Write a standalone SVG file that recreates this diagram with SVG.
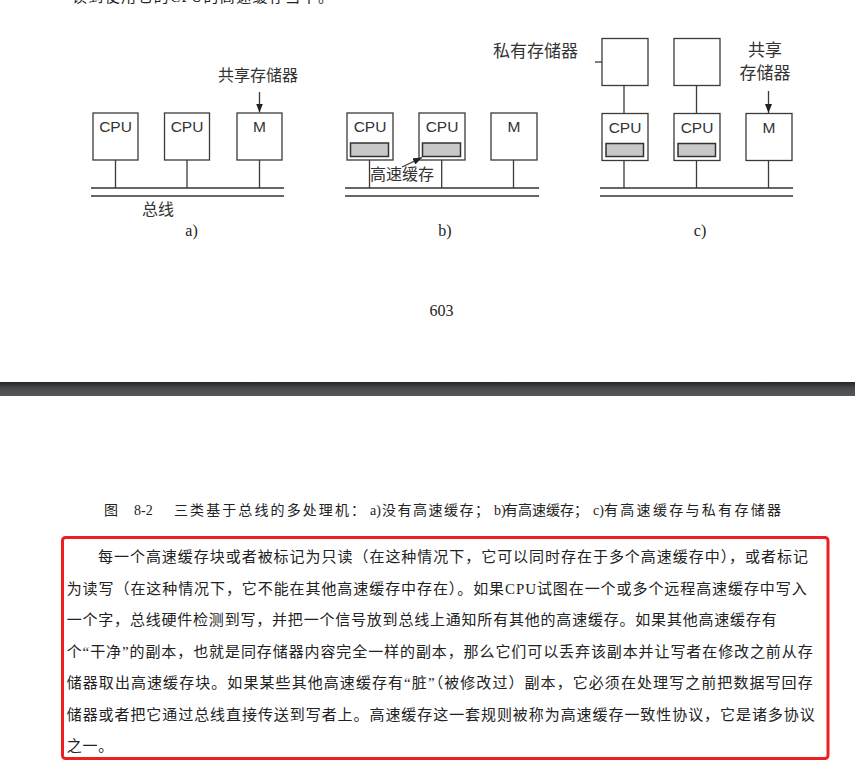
<svg xmlns="http://www.w3.org/2000/svg" width="855" height="766" viewBox="0 0 855 766">
<style>
.box{fill:#fff;stroke:#3a3a3a;stroke-width:1.3}
.cache{fill:#c8c8c8;stroke:#333;stroke-width:1.5}
.ln{stroke:#3a3a3a;stroke-width:1.3;fill:none}
.bus{stroke:#333;stroke-width:1.6;fill:none}
.lbl{font-family:"Liberation Sans",Arial,sans-serif;font-size:15.5px;fill:#333;text-anchor:middle}
.cn{font-family:"Noto Sans CJK SC",sans-serif;font-size:16px;fill:#333}
.sub{font-family:"Liberation Serif",serif;font-size:16px;fill:#222;text-anchor:middle}
.cap{font-family:"Liberation Serif","Noto Sans CJK SC",serif;font-size:14px;fill:#222}
.body{font-family:"Liberation Serif","Noto Sans CJK SC",serif;font-size:15px;fill:#222}
</style>
<defs>
<marker id="ah" markerUnits="userSpaceOnUse" markerWidth="9" markerHeight="7" refX="9" refY="3.5" orient="auto">
<path d="M0,0 L9,3.5 L0,7 z" fill="#222"/>
</marker>
<linearGradient id="band" x1="0" y1="0" x2="0" y2="1">
<stop offset="0" stop-color="#262626"/>
<stop offset="0.45" stop-color="#474a4d"/>
<stop offset="1" stop-color="#53575b"/>
</linearGradient>
</defs>
<rect width="855" height="766" fill="#fff"/>

<text class="body" x="72" y="2" textLength="261" lengthAdjust="spacing">读到使用它的CPU的高速缓存当中。</text>

<!-- a) -->
<g id="a-cpu1"><rect class="box" x="93" y="113" width="45" height="47"/><text class="lbl" x="115.5" y="132">CPU</text></g>
<g id="a-cpu2"><rect class="box" x="164.5" y="113" width="45" height="47"/><text class="lbl" x="187" y="132">CPU</text></g>
<g id="a-m"><rect class="box" x="237" y="113" width="45" height="47"/><text class="lbl" x="259.5" y="132">M</text></g>
<g id="a-bus"><line class="bus" x1="91" y1="188" x2="284" y2="188"/><line class="bus" x1="91" y1="196" x2="284" y2="196"/></g>
<g id="a-labels">
<text class="cn" x="258" y="81" text-anchor="middle">共享存储器</text>
<text class="cn" x="142" y="215">总线</text>
<text class="sub" x="191.5" y="236">a)</text>
</g>

<!-- b) -->
<g id="b-cpu1"><rect class="box" x="347" y="113" width="46" height="47"/><text class="lbl" x="370" y="132">CPU</text><rect class="cache" x="350.5" y="143" width="38" height="13.5"/></g>
<g id="b-cpu2"><rect class="box" x="419" y="113" width="46" height="47"/><text class="lbl" x="442" y="132">CPU</text><rect class="cache" x="422.5" y="143" width="38" height="13.5"/></g>
<g id="b-m"><rect class="box" x="491" y="113" width="46" height="47"/><text class="lbl" x="514" y="132">M</text></g>
<g id="b-bus"><line class="bus" x1="345" y1="188" x2="539" y2="188"/><line class="bus" x1="345" y1="196" x2="539" y2="196"/></g>
<g id="b-labels">
<text class="cn" x="370" y="180">高速缓存</text>
<text class="sub" x="445" y="236">b)</text>
</g>

<!-- c) -->
<g id="c-pm1"><rect class="box" x="602" y="38.5" width="46" height="47"/></g>
<g id="c-pm2"><rect class="box" x="674" y="38.5" width="46" height="47"/></g>
<g id="c-cpu1"><rect class="box" x="602" y="113.5" width="46" height="47"/><text class="lbl" x="625" y="133">CPU</text><rect class="cache" x="606" y="143.5" width="37.5" height="13"/></g>
<g id="c-cpu2"><rect class="box" x="674" y="113.5" width="46" height="47"/><text class="lbl" x="697" y="133">CPU</text><rect class="cache" x="678" y="143.5" width="37.5" height="13"/></g>
<g id="c-m"><rect class="box" x="746" y="113.5" width="46" height="47"/><text class="lbl" x="769" y="133">M</text></g>
<g id="c-bus"><line class="bus" x1="600" y1="188" x2="793" y2="188"/><line class="bus" x1="600" y1="196" x2="793" y2="196"/></g>
<g id="c-labels">
<text class="cn" x="493" y="57" style="font-size:17px">私有存储器</text>
<text class="cn" x="765" y="56" text-anchor="middle" style="font-size:17px">共享</text>
<text class="cn" x="765" y="79" text-anchor="middle" style="font-size:17px">存储器</text>
<text class="sub" x="700" y="236">c)</text>
</g>

<g id="connectors">
<line class="ln" x1="115.5" y1="160" x2="115.5" y2="188"/>
<line class="ln" x1="187" y1="160" x2="187" y2="188"/>
<line class="ln" x1="259.5" y1="160" x2="259.5" y2="188"/>
<line class="ln" x1="259.5" y1="92" x2="259.5" y2="112.5" marker-end="url(#ah)"/>
<line class="ln" x1="369.5" y1="160" x2="369.5" y2="188"/>
<line class="ln" x1="441.7" y1="160" x2="441.7" y2="188"/>
<line class="ln" x1="513.5" y1="160" x2="513.5" y2="188"/>
<line class="ln" x1="402" y1="167" x2="422" y2="157.5" marker-end="url(#ah)"/>
<line class="ln" x1="624" y1="85.5" x2="624" y2="113.5"/>
<line class="ln" x1="696.5" y1="85.5" x2="696.5" y2="113.5"/>
<line class="ln" x1="624" y1="160.5" x2="624" y2="188"/>
<line class="ln" x1="696.5" y1="160.5" x2="696.5" y2="188"/>
<line class="ln" x1="768.5" y1="160.5" x2="768.5" y2="188"/>
<line class="ln" x1="768.5" y1="91" x2="768.5" y2="113" marker-end="url(#ah)"/>
<line class="ln" x1="595" y1="62" x2="602" y2="62"/>
</g>

<text class="sub" x="441.5" y="316">603</text>

<rect x="0" y="382" width="855" height="14" fill="url(#band)"/>

<g id="caption">
<text class="cap" x="104" y="515">图</text>
<text class="cap" x="134" y="515">8-2</text>
<text class="cap" x="174" y="515" textLength="191" lengthAdjust="spacing">三类基于总线的多处理机：</text>
<text class="cap" x="370" y="515">a)</text>
<text class="cap" x="382" y="515" textLength="107" lengthAdjust="spacing">没有高速缓存；</text>
<text class="cap" x="494" y="515">b)</text>
<text class="cap" x="504" y="515" textLength="84" lengthAdjust="spacing">有高速缓存；</text>
<text class="cap" x="593" y="515">c)</text>
<text class="cap" x="604" y="515" textLength="177" lengthAdjust="spacing">有高速缓存与私有存储器</text>
</g>

<rect x="62.5" y="537.5" width="765.5" height="221" rx="3" fill="none" stroke="#f01e1e" stroke-width="3"/>
<g id="body">
<text class="body" x="98" y="562" textLength="710" lengthAdjust="spacing">每一个高速缓存块或者被标记为只读（在这种情况下，它可以同时存在于多个高速缓存中），或者标记</text>
<text class="body" x="66.7" y="593.5" textLength="740" lengthAdjust="spacing">为读写（在这种情况下，它不能在其他高速缓存中存在）。如果CPU试图在一个或多个远程高速缓存中写入</text>
<text class="body" x="66.7" y="625" textLength="710" lengthAdjust="spacing">一个字，总线硬件检测到写，并把一个信号放到总线上通知所有其他的高速缓存。如果其他高速缓存有</text>
<text class="body" x="66.7" y="656.5" textLength="746" lengthAdjust="spacing">个“干净”的副本，也就是同存储器内容完全一样的副本，那么它们可以丢弃该副本并让写者在修改之前从存</text>
<text class="body" x="66.7" y="688" textLength="746" lengthAdjust="spacing">储器取出高速缓存块。如果某些其他高速缓存有“脏”（被修改过）副本，它必须在处理写之前把数据写回存</text>
<text class="body" x="66.7" y="719.5" textLength="748" lengthAdjust="spacing">储器或者把它通过总线直接传送到写者上。高速缓存这一套规则被称为高速缓存一致性协议，它是诸多协议</text>
<text class="body" x="66.7" y="751" letter-spacing="0.8">之一。</text>
</g>
</svg>
